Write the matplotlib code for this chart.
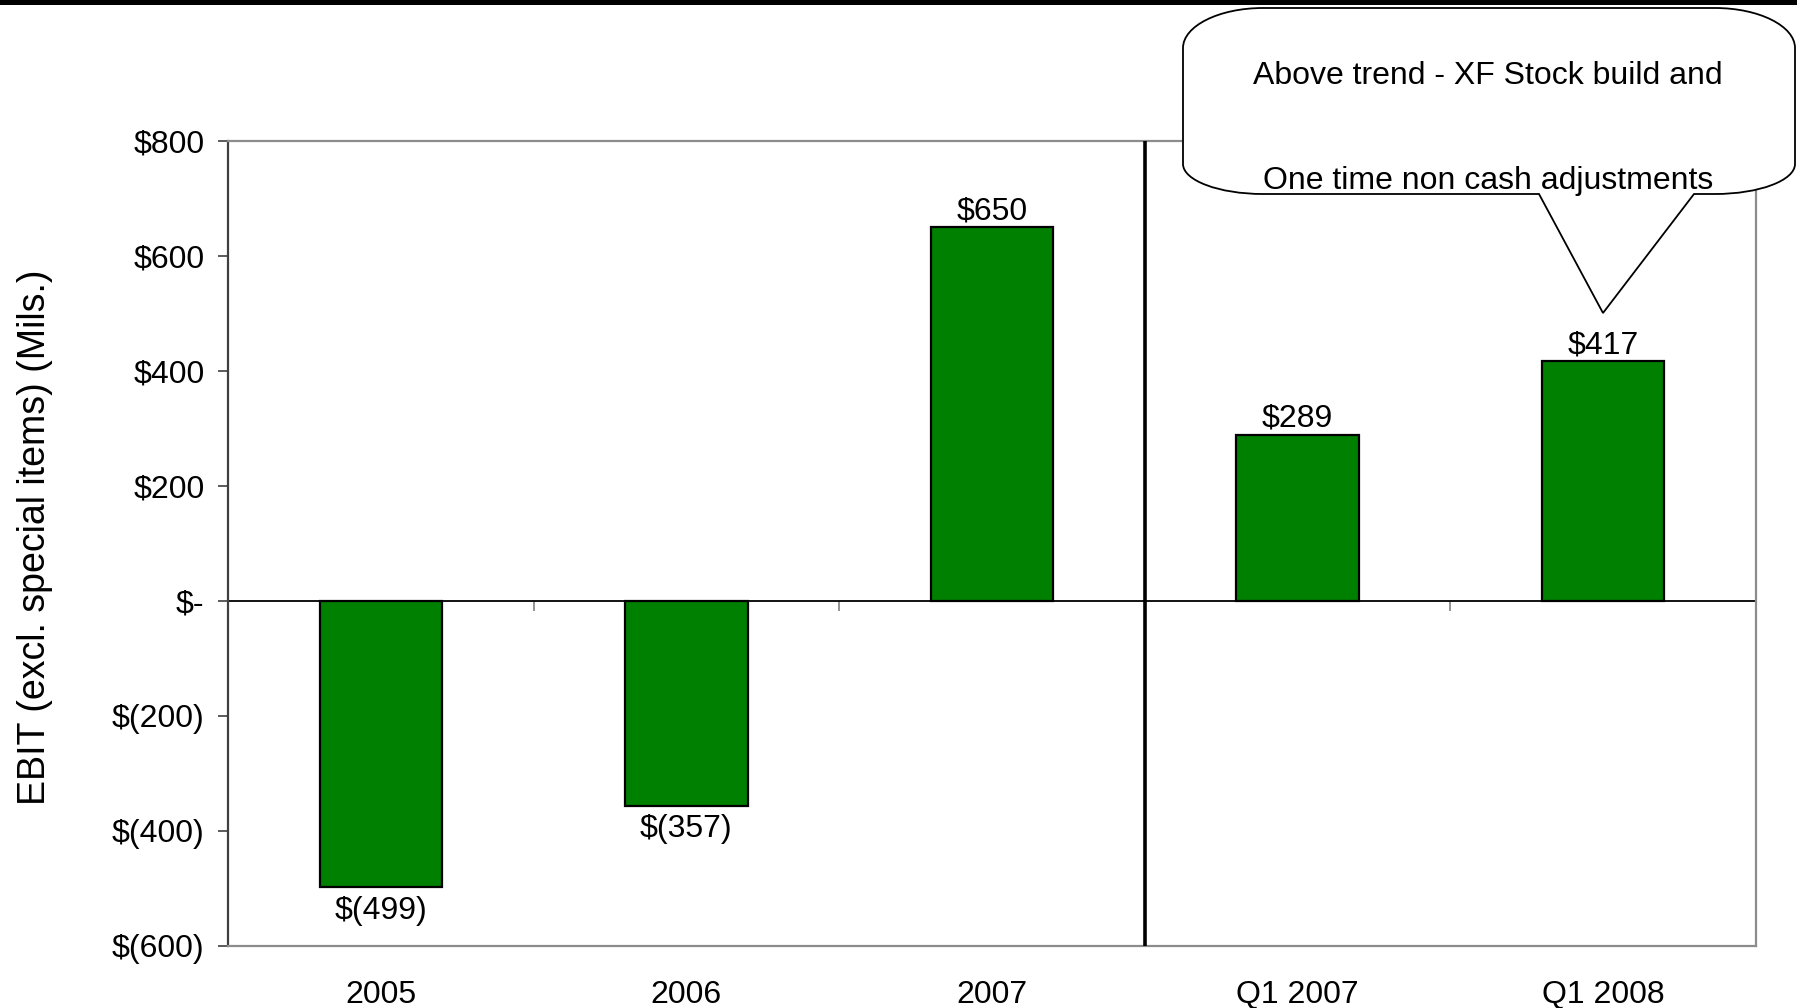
import numpy as np
import matplotlib
matplotlib.use("Agg")
import matplotlib.pyplot as plt
from matplotlib.path import Path
from matplotlib.patches import PathPatch, Rectangle

# ---- data ----
categories = ["2005", "2006", "2007", "Q1 2007", "Q1 2008"]
values = [-499, -357, 650, 289, 417]
value_labels = ["$(499)", "$(357)", "$650", "$289", "$417"]
y_ticks = [-600, -400, -200, 0, 200, 400, 600, 800]
y_tick_labels = ["$(600)", "$(400)", "$(200)", "$-", "$200", "$400", "$600", "$800"]
y_label = "EBIT (excl. special items) (Mils.)"
callout_lines = ["Above trend - XF Stock build and", "One time non cash adjustments"]

W, H = 1797, 1008
plt.rcParams['font.family'] = ['Liberation Sans', 'DejaVu Sans']
FS = 23

fig = plt.figure(figsize=(W / 100, H / 100), dpi=100)
ax = fig.add_axes([228 / W, 1 - 945.5 / H, (1756 - 228) / W, (945.5 - 141) / H])

x = np.arange(len(categories))
ax.bar(x, values, width=0.40, color='#008000', edgecolor='black', linewidth=1.6, zorder=3)
ax.set_xlim(-0.5, len(categories) - 0.5)
ymin, ymax = -600, 800
ax.set_ylim(ymin, ymax)

ax.set_yticks(y_ticks)
ax.set_yticklabels(y_tick_labels, fontsize=FS)
ax.tick_params(axis='y', direction='out', length=7.5, width=1.2, color='#404040', pad=9.5)
ax.set_xticks(x)
ax.set_xticklabels(categories, fontsize=FS)
ax.tick_params(axis='x', length=0, pad=25)

for s in ['top', 'right', 'bottom']:
    ax.spines[s].set_color('#8c8c8c')
    ax.spines[s].set_linewidth(1.6)
ax.spines['left'].set_color('#404040')
ax.spines['left'].set_linewidth(1.6)

ax.set_ylabel(y_label, fontsize=27)
ax.yaxis.set_label_coords(-0.1144, 0.508)

# zero line and category boundary ticks on it
ax.axhline(0, color='black', linewidth=1.3, zorder=2)
sec = ax.secondary_xaxis((0 - ymin) / (ymax - ymin))
sec.set_xticks(np.arange(len(categories) + 1) - 0.5)
sec.tick_params(axis='x', direction='out', length=7.5, width=1.2, color='#808080', labelbottom=False)
sec.spines['bottom'].set_visible(False)

# divider between annual and quarterly
ax.axvline(2.5, color='black', linewidth=2.6, zorder=4)

# data labels
for xi, v, lab in zip(x, values, value_labels):
    off = 11.5 if v >= 0 else -17
    ax.annotate(lab, (xi, v), xytext=(0, off), textcoords='offset points',
                ha='center', va='center', fontsize=FS, zorder=5)

# top black bar
fig.patches.append(Rectangle((0, 1 - 4.5 / H), 1, 4.5 / H, transform=fig.transFigure,
                             facecolor='black', edgecolor='none', zorder=10))

# callout shape
def P(px, py):
    return (px / W, 1 - py / H)

L, R, T, B = 1183, 1795, 8, 194
rx, ryt, ryb = 80, 40, 30
k = 0.55
b1, b2, tip = 1539, 1694, (1603, 313)
verts = [
    P(L + rx, T), P(R - rx, T),
    P(R - rx + k * rx, T), P(R, T + ryt - k * ryt), P(R, T + ryt),
    P(R, B - ryb),
    P(R, B - ryb + k * ryb), P(R - rx + k * rx, B), P(R - rx, B),
    P(b2, B), P(*tip), P(b1, B),
    P(L + rx, B),
    P(L + rx - k * rx, B), P(L, B - ryb + k * ryb), P(L, B - ryb),
    P(L, T + ryt),
    P(L, T + ryt - k * ryt), P(L + rx - k * rx, T), P(L + rx, T),
    P(L + rx, T),
]
codes = [Path.MOVETO, Path.LINETO,
         Path.CURVE4, Path.CURVE4, Path.CURVE4,
         Path.LINETO,
         Path.CURVE4, Path.CURVE4, Path.CURVE4,
         Path.LINETO, Path.LINETO, Path.LINETO,
         Path.LINETO,
         Path.CURVE4, Path.CURVE4, Path.CURVE4,
         Path.LINETO,
         Path.CURVE4, Path.CURVE4, Path.CURVE4,
         Path.CLOSEPOLY]
callout = PathPatch(Path(verts, codes), transform=fig.transFigure, facecolor='white',
                    edgecolor='black', linewidth=1.3, zorder=20)
fig.patches.append(callout)

fig.text(*P(1488, 76.5), callout_lines[0], ha='center', va='center', fontsize=FS, zorder=21)
fig.text(*P(1488, 180.5), callout_lines[1], ha='center', va='center', fontsize=FS, zorder=21)

fig.savefig("out.png", dpi=100)
